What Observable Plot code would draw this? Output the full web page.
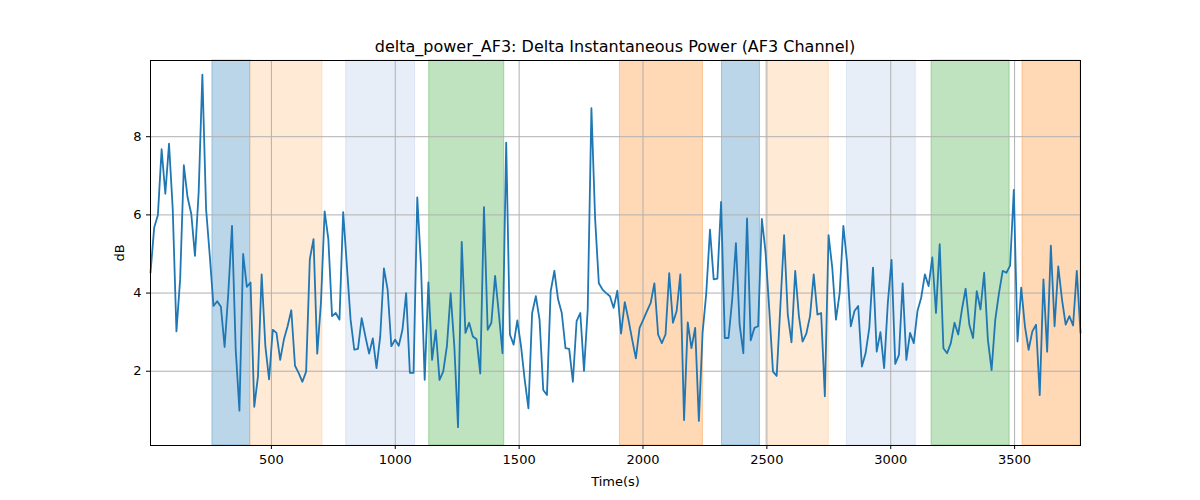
<!DOCTYPE html>
<html><head><meta charset="utf-8">
<script src="https://cdn.jsdelivr.net/npm/d3@7"></script>
<script src="https://cdn.jsdelivr.net/npm/@observablehq/plot@0.6"></script>
<style>body{margin:0;background:#fff;font-family:"DejaVu Sans",sans-serif}
#t{height:36px;font-size:16px;line-height:20px;position:relative}
#t span{position:absolute;left:615px;transform:translateX(-50%);top:37px;white-space:nowrap}</style>
</head><body>
<div id="t"></div>
<div id="c"></div>
<script>
const title = "delta_power_AF3: Delta Instantaneous Power (AF3 Channel)";
const tStart = 12, tEnd = 3766;
const values = [4.52,5.68,6.0,7.68,6.54,7.82,6.15,3.02,4.35,7.27,6.45,6.03,4.95,6.58,9.59,6.15,4.95,3.67,3.79,3.65,2.62,4.0,5.72,2.55,0.99,5.0,4.16,4.27,1.09,1.86,4.48,2.64,1.79,3.06,2.98,2.29,2.81,3.15,3.56,2.14,1.95,1.73,1.99,4.87,5.38,2.45,3.75,6.09,5.38,3.41,3.49,3.32,6.07,4.7,3.32,2.55,2.57,3.36,2.89,2.45,2.84,2.08,2.89,4.63,4.09,
2.64,2.81,2.65,3.06,4.0,1.96,1.96,6.45,4.7,1.78,4.27,2.29,3.05,1.78,1.99,2.64,4.0,2.64,0.57,5.31,2.98,3.24,2.89,2.82,1.94,6.2,3.06,3.24,4.44,3.49,2.46,7.85,2.94,2.68,3.3,2.64,1.78,1.05,3.49,3.92,3.32,1.52,1.39,4.04,4.57,3.84,3.49,2.59,2.57,1.73,3.28,3.49,2.01,3.58,8.73,5.9,4.25,4.09,4.0,3.92,3.62,4.06,2.96,
3.77,3.32,2.81,2.33,3.11,3.32,3.54,3.75,4.25,2.94,2.72,2.94,4.51,3.24,3.54,4.48,0.75,3.25,2.59,3.11,0.73,2.98,4.0,5.62,4.35,4.37,6.33,2.85,2.85,3.84,5.28,3.19,2.46,5.91,2.79,3.11,3.15,5.9,5.04,3.58,1.99,1.88,3.67,5.48,3.45,2.74,4.57,3.41,2.76,2.96,3.41,4.48,3.45,3.49,1.36,5.48,4.65,3.32,4.0,5.72,4.78,3.15,3.54,
3.67,2.12,2.46,3.11,4.65,2.5,3.0,2.08,3.75,4.85,2.19,2.42,4.25,2.29,2.98,2.72,3.54,3.88,4.48,4.18,4.91,3.49,5.25,2.59,2.46,2.72,3.24,2.94,3.58,4.11,3.19,2.85,4.05,3.58,4.52,2.81,2.03,3.32,4.0,4.57,4.52,4.7,6.64,2.76,4.14,3.15,2.55,3.02,3.19,1.39,4.35,2.5,5.21,3.15,4.68,3.84,3.19,3.41,3.17,4.57,2.98];
const bandStart = [262,415,802,1137,1907,2319,2496,2823,3165,3532];
const bandEnd   = [415,706,1080,1440,2242,2472,2750,3101,3480,3766];
const bandColor = ["#1f77b4","#ffbb78","#aec7e8","#2ca02c","#ff7f0e","#1f77b4","#ffbb78","#aec7e8","#2ca02c","#ff7f0e"];
const xTicks = [500,1000,1500,2000,2500,3000,3500];
const yTicks = [2,4,6,8];

document.getElementById("t").innerHTML = "<span></span>";
document.querySelector("#t span").textContent = title;
const step = (tEnd - tStart) / (values.length - 1);
const data = values.map((v, i) => ({t: tStart + i * step, v}));
const bands = bandStart.map((s, i) => ({x1: s, x2: bandEnd[i], c: bandColor[i]}));

const chart = Plot.plot({
  width: 1200, height: 464,
  marginLeft: 150, marginRight: 120, marginTop: 24, marginBottom: 55,
  style: {fontFamily: "DejaVu Sans, sans-serif", fontSize: "13px", color: "#000"},
  x: {domain: [tStart, tEnd]},
  y: {domain: [0.1, 9.95]},
  marks: [
    Plot.rectX(bands, {x1: "x1", x2: "x2", y1: 0.1, y2: 9.95, fill: "c", fillOpacity: 0.3, stroke: "c", strokeOpacity: 0.35}),
    Plot.gridX(xTicks, {stroke: "#b0b0b0", strokeOpacity: 1, strokeWidth: 1}),
    Plot.gridY(yTicks, {stroke: "#b0b0b0", strokeOpacity: 1, strokeWidth: 1}),
    Plot.axisX(xTicks, {tickSize: 4, tickFormat: d => String(d), label: "Time(s)", labelAnchor: "center", labelArrow: "none", labelOffset: 40, fontSize: 13}),
    Plot.axisY(yTicks, {tickSize: 4, tickFormat: d => String(d), label: "dB", labelAnchor: "center", labelArrow: "none", labelOffset: 36, fontSize: 13}),
    Plot.lineY(data, {x: "t", y: "v", stroke: "#1f77b4", strokeWidth: 1.8}),
    Plot.frame({stroke: "#000"})
  ]
});
document.getElementById("c").appendChild(chart);
</script>
</body></html>
